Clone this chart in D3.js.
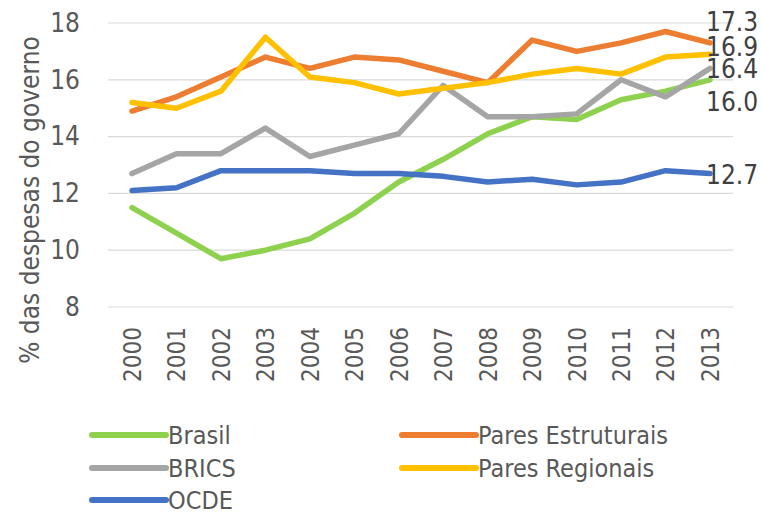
<!DOCTYPE html>
<html>
<head>
<meta charset="utf-8">
<script src="https://cdn.jsdelivr.net/npm/d3@7/dist/d3.min.js"></script>
<style>
  body { margin: 0; background: #fff; }
  svg text { font-family: "Liberation Sans Narrow", "DejaVu Sans Condensed", sans-serif; }
</style>
</head>
<body>
<svg></svg>
<script>
let years = ["2000","2001","2002","2003","2004","2005","2006","2007","2008","2009","2010","2011","2012","2013"];
let yTicks = [8, 10, 12, 14, 16, 18];

let brasil     = [11.5, 10.6, 9.7, 10.0, 10.4, 11.3, 12.4, 13.2, 14.1, 14.7, 14.6, 15.3, 15.6, 16.0];
let paresEstr  = [14.9, 15.4, 16.1, 16.8, 16.4, 16.8, 16.7, 16.3, 15.9, 17.4, 17.0, 17.3, 17.7, 17.3];
let brics      = [12.7, 13.4, 13.4, 14.3, 13.3, 13.7, 14.1, 15.8, 14.7, 14.7, 14.8, 16.0, 15.4, 16.4];
let paresReg   = [15.2, 15.0, 15.6, 17.5, 16.1, 15.9, 15.5, 15.7, 15.9, 16.2, 16.4, 16.2, 16.8, 16.9];
let ocde       = [12.1, 12.2, 12.8, 12.8, 12.8, 12.7, 12.7, 12.6, 12.4, 12.5, 12.3, 12.4, 12.8, 12.7];

// series in Excel order (legend fills row by row, 2 columns)
let series = [
  { name: "Brasil", values: brasil, color: "#8ED14F", labelDy: 22 },
  { name: "Pares Estruturais", values: paresEstr, color: "#ED7D31", labelDy: -21 },
  { name: "BRICS", values: brics, color: "#A5A5A5", labelDy: 0 },
  { name: "Pares Regionais", values: paresReg, color: "#FFC000", labelDy: -7 },
  { name: "OCDE", values: ocde, color: "#4472C4", labelDy: 1 }
];

let width = 761, height = 514;
let svg = d3.select("svg").attr("width", width).attr("height", height);

let x = d3.scalePoint().domain(years).range([132, 710]);
let y = d3.scaleLinear().domain([8, 18]).range([307, 23]);

// gridlines
svg.append("g")
  .selectAll("line").data(yTicks)
  .enter().append("line")
    .attr("x1", 108).attr("x2", 733)
    .attr("y1", d => y(d)).attr("y2", d => y(d))
    .attr("stroke", "#d9d9d9").attr("stroke-width", 1.2);

// y axis labels
let axisY = d3.axisLeft(y).tickValues(yTicks).tickSize(0).tickPadding(0);
let gy = svg.append("g").attr("transform", "translate(80,0)").call(axisY);
gy.select(".domain").remove();
gy.selectAll("text").attr("font-size", 26).attr("fill", "#595959")
  .style("font-family", null);

// x axis labels, rotated
let axisX = d3.axisBottom(x).tickSize(0);
let gx = svg.append("g").attr("transform", "translate(0,327)").call(axisX);
gx.select(".domain").remove();
gx.selectAll("text")
  .attr("font-size", 24).attr("fill", "#595959")
  .attr("transform", "rotate(-90)")
  .attr("text-anchor", "end")
  .attr("x", 0).attr("y", 0).attr("dy", "0.35em")
  .style("font-family", null);

// y title
svg.append("text")
  .attr("transform", "translate(30,200) rotate(-90)")
  .attr("text-anchor", "middle")
  .attr("dy", "0.35em")
  .attr("font-size", 26).attr("fill", "#595959")
  .text("% das despesas do governo");

let line = d3.line()
  .x((d, i) => x(years[i]))
  .y(d => y(d));

svg.append("g")
  .selectAll("path").data(series)
  .enter().append("path")
    .attr("d", d => line(d.values))
    .attr("fill", "none")
    .attr("stroke", d => d.color)
    .attr("stroke-width", 5.5)
    .attr("stroke-linejoin", "round")
    .attr("stroke-linecap", "round");

// end labels
svg.append("g")
  .selectAll("text").data(series)
  .enter().append("text")
    .attr("x", x(years[years.length - 1]) - 4)
    .attr("y", d => y(d.values[d.values.length - 1]) + d.labelDy)
    .attr("dy", "0.35em")
    .attr("font-size", 26).attr("fill", "#404040")
    .text(d => d.values[d.values.length - 1].toFixed(1));

// legend
let legendPos = [
  { lx: 92, ty: 435 }, { lx: 402, ty: 435 },
  { lx: 92, ty: 468 }, { lx: 402, ty: 468 },
  { lx: 92, ty: 500 }
];
let legend = svg.append("g")
  .selectAll("g").data(series)
  .enter().append("g")
    .attr("transform", (d, i) => `translate(${legendPos[i].lx},${legendPos[i].ty})`);
legend.append("line")
  .attr("x1", 0).attr("x2", 74).attr("y1", 0).attr("y2", 0)
  .attr("stroke", d => d.color).attr("stroke-width", 6).attr("stroke-linecap", "round");
legend.append("text")
  .attr("x", 76).attr("dy", "0.35em")
  .attr("font-size", 25).attr("fill", "#595959")
  .text(d => d.name);
</script>
</body>
</html>
